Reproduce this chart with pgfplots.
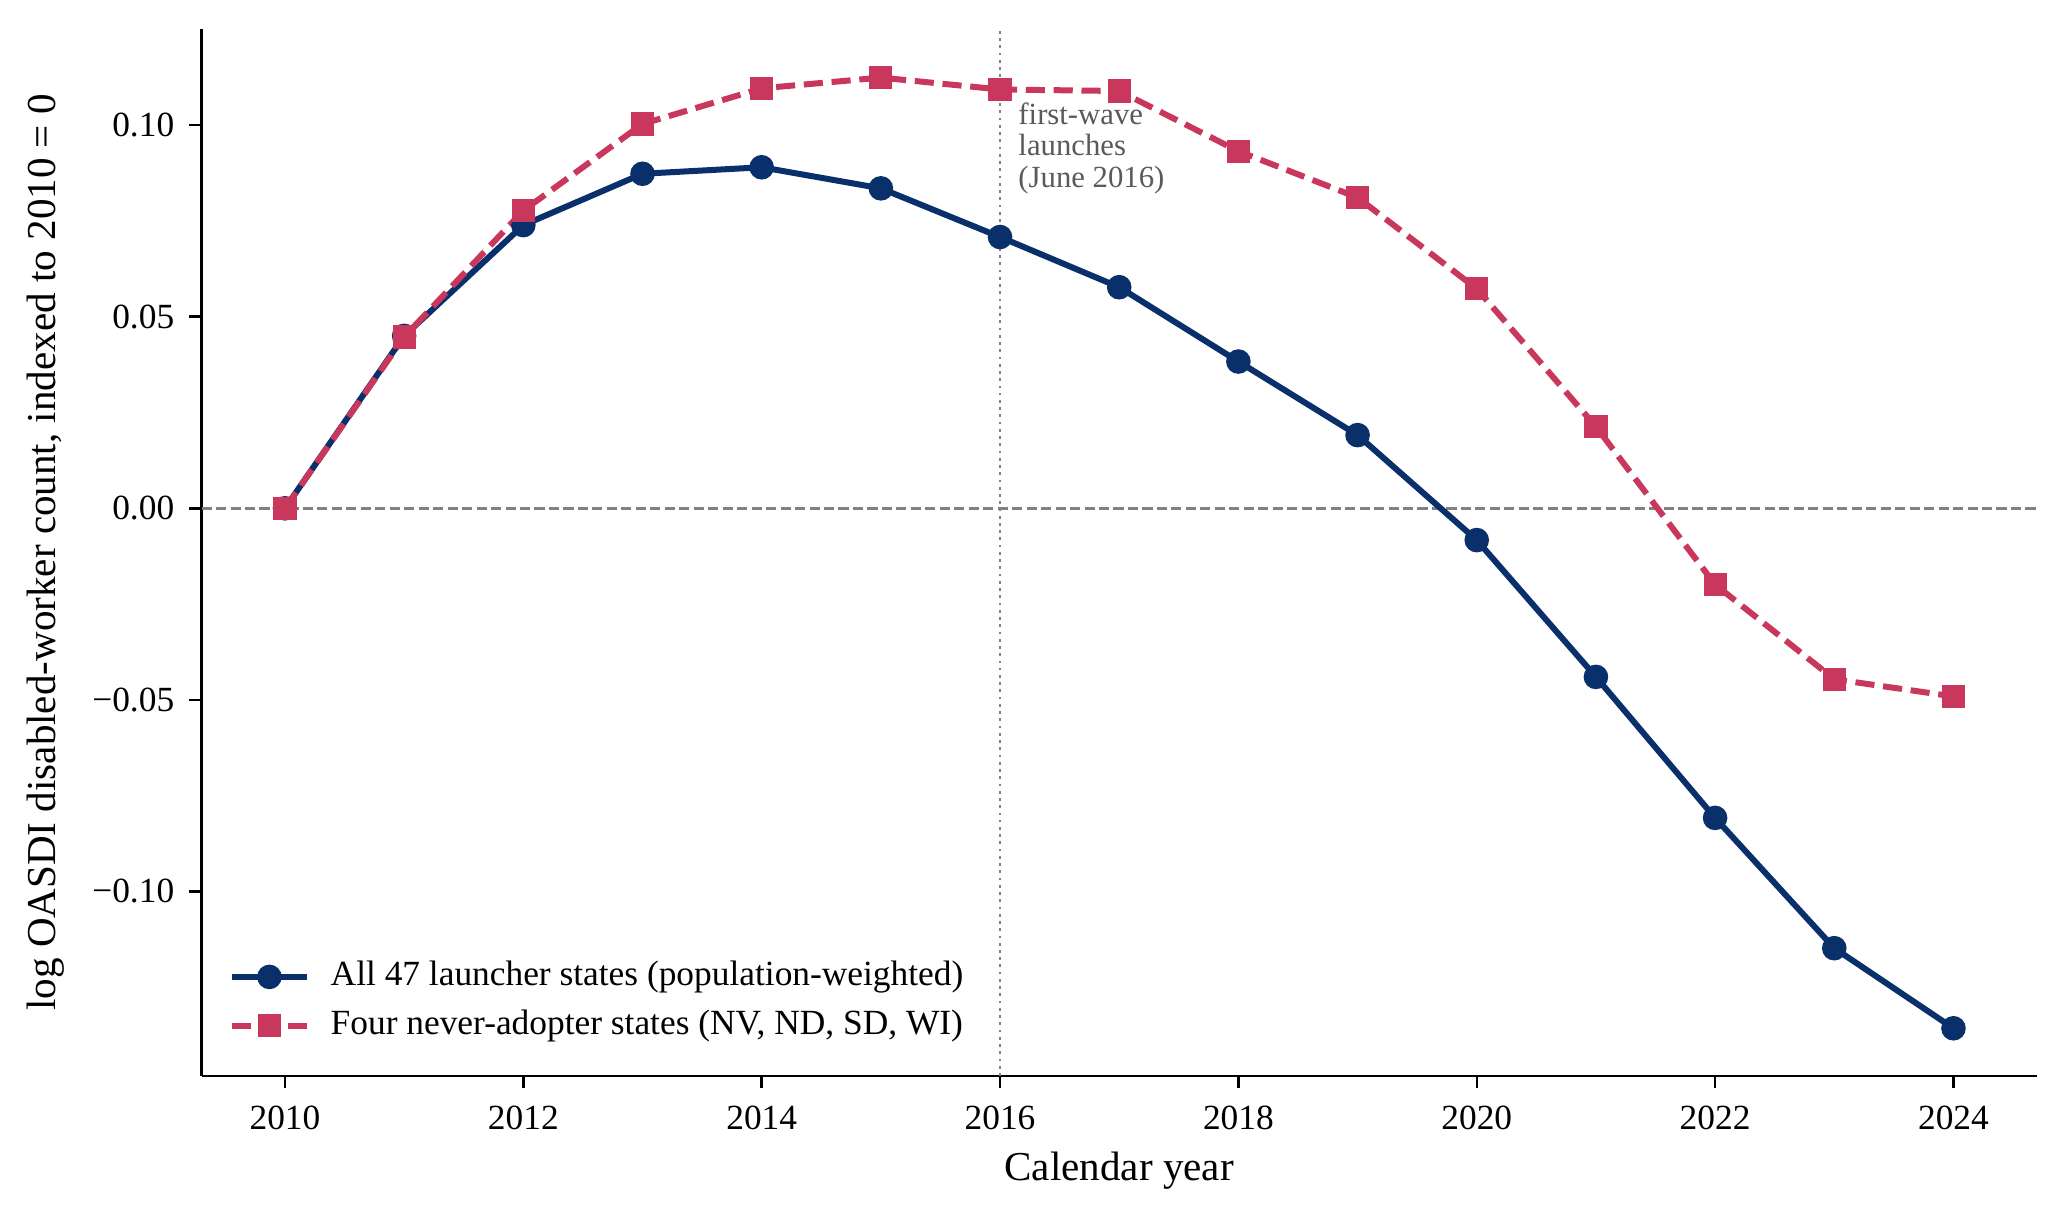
\documentclass[border=0pt]{standalone}
\usepackage{fontspec}
\setmainfont{Liberation Serif}
\usepackage{pgfplots}
\pgfplotsset{compat=1.18}
\definecolor{navy}{RGB}{10,48,107}
\definecolor{crim}{RGB}{201,56,92}
\definecolor{annot}{RGB}{90,90,90}
\definecolor{refgray}{RGB}{128,128,128}
\begin{document}
\begin{tikzpicture}
\begin{axis}[
  scale only axis, width=672bp, height=383.3bp,
  xmin=2009.3, xmax=2024.7, ymin=-0.1481, ymax=0.1251,
  axis x line*=bottom, axis y line*=left,
  axis line style={-, line width=0.9bp},
  tick align=outside, major tick length=4.5bp,
  tick style={black, line width=0.9bp},
  xtick={2010,2012,...,2024},
  xticklabels={2010,2012,2014,2016,2018,2020,2022,2024},
  ytick={-0.10,-0.05,0,0.05,0.10},
  yticklabels={−0.10,−0.05,0.00,0.05,0.10},
  ticklabel style={font=\fontsize{13}{15}\selectfont},
  xticklabel style={yshift=-2.9bp},
  yticklabel style={xshift=-2bp},
  xlabel={Calendar year},
  ylabel={log OASDI disabled-worker count, indexed to 2010 = 0},
  label style={font=\fontsize{15.1}{18}\selectfont},
  xlabel style={at={(axis description cs:0.5,0)}, anchor=base, yshift=-38.5bp},
  ylabel style={at={(axis description cs:-0.0848,0.5)}, anchor=center},
  legend style={at={(axis description cs:0,0)}, anchor=south west,
    xshift=10bp, yshift=12.3bp, draw=none, fill=none, inner sep=0pt,
    outer sep=0pt, row sep=5.9bp, column sep=7.6bp,
    font=\fontsize{13}{15}\selectfont,
    nodes={inner sep=0pt, text height=9bp, text depth=3bp}},
  legend cell align=left,
  legend image code/.code={\draw[mark repeat=2,mark phase=2] plot coordinates {(0bp,0bp) (13.75bp,0bp) (27.5bp,0bp)};},
]
\addplot[refgray, line width=1bp, dash pattern=on 3.7bp off 1.6bp, forget plot] coordinates {(2009.3,0) (2024.7,0)};
\addplot[navy, line width=2.2bp, mark=*, mark size=4.1bp, mark options={solid, line width=0.8bp}] coordinates {
(2010,0) (2011,0.0450) (2012,0.0739) (2013,0.0873) (2014,0.0890) (2015,0.0835)
(2016,0.0708) (2017,0.0577) (2018,0.0383) (2019,0.0191) (2020,-0.0083)
(2021,-0.0440) (2022,-0.0808) (2023,-0.1148) (2024,-0.1357)};
\addlegendentry{All 47 launcher states (population-weighted)}
\addplot[crim, line width=2.2bp, dash pattern=on 7bp off 3.2bp, mark=square*, mark size=3.85bp, mark options={solid, line width=0.8bp}] coordinates {
(2010,0) (2011,0.0447) (2012,0.0777) (2013,0.1003) (2014,0.1096) (2015,0.1124)
(2016,0.1093) (2017,0.1089) (2018,0.0932) (2019,0.0811) (2020,0.0573)
(2021,0.0213) (2022,-0.0199) (2023,-0.0446) (2024,-0.0491)};
\addlegendentry{Four never-adopter states (NV, ND, SD, WI)}
\addplot[refgray, line width=1bp, dash pattern=on 1bp off 1.65bp, forget plot] coordinates {(2016,-0.1481) (2016,0.1251)};
\node[anchor=north west, align=left, inner sep=0pt, text=annot, font=\fontsize{11.3}{11.6}\selectfont] at (axis cs:2016.15,0.106) {first-wave\\launches\\(June 2016)};
\end{axis}
\pgfresetboundingbox
\path (current axis.south west) ++(-73.8bp,-54.5bp) rectangle ([xshift=10.3bp,yshift=10.6bp]current axis.north east);
\end{tikzpicture}
\end{document}
